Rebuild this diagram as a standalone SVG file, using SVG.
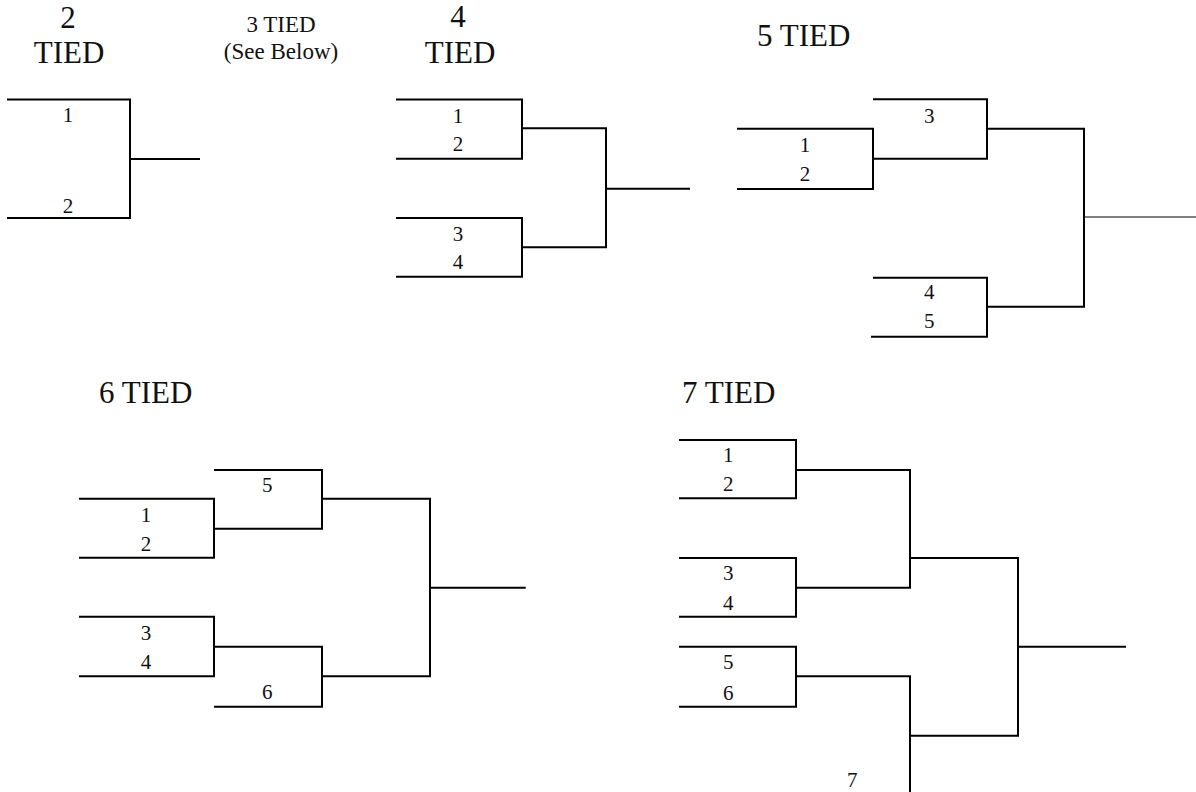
<svg xmlns="http://www.w3.org/2000/svg" width="1196" height="792" viewBox="0 0 1196 792">
<style>
.ln{fill:none;stroke:#000;stroke-width:2;stroke-linejoin:miter}
.thin{fill:none;stroke:#000;stroke-width:1.2}
text{font-family:'Liberation Serif','Times New Roman',Times,'DejaVu Serif',serif;fill:#111}
.num{font-size:21px;text-anchor:middle}
.title{font-size:31px}
.sub{font-size:23px;text-anchor:middle}
</style>
<rect width="1196" height="792" fill="#fff"/>
<g id="titles">
<text class="title" x="68" y="28" text-anchor="middle">2</text>
<text class="title" x="69" y="63" text-anchor="middle">TIED</text>
<text class="sub" x="281" y="32">3 TIED</text>
<text class="sub" x="281" y="59">(See Below)</text>
<text class="title" x="458" y="27" text-anchor="middle">4</text>
<text class="title" x="460" y="63" text-anchor="middle">TIED</text>
<text class="title" x="757" y="46">5 TIED</text>
<text class="title" x="99" y="403">6 TIED</text>
<text class="title" x="682" y="403">7 TIED</text>
</g>
<g id="t2-m1"><path class="ln" d="M7,99.5H130V218H7"/><text class="num" x="68" y="122">1</text><text class="num" x="68" y="213">2</text></g>
<g id="t4-m1"><path class="ln" d="M396,99.5H522V158.7H396"/><text class="num" x="458" y="122.5">1</text><text class="num" x="458" y="150.7">2</text></g>
<g id="t4-m2"><path class="ln" d="M396,218H522V276.7H396"/><text class="num" x="458" y="240.7">3</text><text class="num" x="458" y="269.3">4</text></g>
<g id="t5-m1"><path class="ln" d="M737,128.7H873V189H737"/><text class="num" x="805" y="151.7">1</text><text class="num" x="805" y="181">2</text></g>
<g id="t5-m2"><path class="ln" d="M873,99.3H987V158.7H873"/><text class="num" x="929.3" y="122.7">3</text></g>
<g id="t5-m3"><path class="ln" d="M873,277.7H987V336.7H871"/><text class="num" x="929.3" y="299.3">4</text><text class="num" x="929.3" y="328.3">5</text></g>
<g id="t6-m1"><path class="ln" d="M79,498.7H214V557.7H79"/><text class="num" x="146" y="521.7">1</text><text class="num" x="146" y="550.7">2</text></g>
<g id="t6-m2"><path class="ln" d="M214,470H322V528.7H214"/><text class="num" x="267.3" y="491.7">5</text></g>
<g id="t6-m3"><path class="ln" d="M79,616.7H214V676.3H79"/><text class="num" x="146" y="640">3</text><text class="num" x="146" y="668.7">4</text></g>
<g id="t6-m4"><path class="ln" d="M214,646.7H322V706.7H214"/><text class="num" x="267.3" y="699.3">6</text></g>
<g id="t7-m1"><path class="ln" d="M679,440H796V498.3H679"/><text class="num" x="728.3" y="462.3">1</text><text class="num" x="728.3" y="491">2</text></g>
<g id="t7-m2"><path class="ln" d="M679,558H796V616.7H679"/><text class="num" x="728.3" y="580">3</text><text class="num" x="728.3" y="610">4</text></g>
<g id="t7-m3"><path class="ln" d="M679,646.7H796V706.7H679"/><text class="num" x="728.3" y="669.3">5</text><text class="num" x="728.3" y="700">6</text></g>
<g id="t7-bye"><text class="num" x="852.3" y="786.7">7</text></g>
<g id="connectors">
<path class="ln" d="M130,159H200"/>
<path class="ln" d="M522,128.3H606V247.3H522"/>
<path class="ln" d="M606,188.7H690"/>
<path class="ln" d="M987,128.7H1084V306.7H987"/>
<path class="thin" d="M1084,217H1196"/>
<path class="ln" d="M322,498.7H430V676.3H322"/>
<path class="ln" d="M430,587.7H525.7"/>
<path class="ln" d="M796,470H910V587.7H796"/>
<path class="ln" d="M910,558H1018V735.7H910"/>
<path class="ln" d="M796,676.3H910V792"/>
<path class="ln" d="M1018,646.7H1126"/>
</g>
</svg>
